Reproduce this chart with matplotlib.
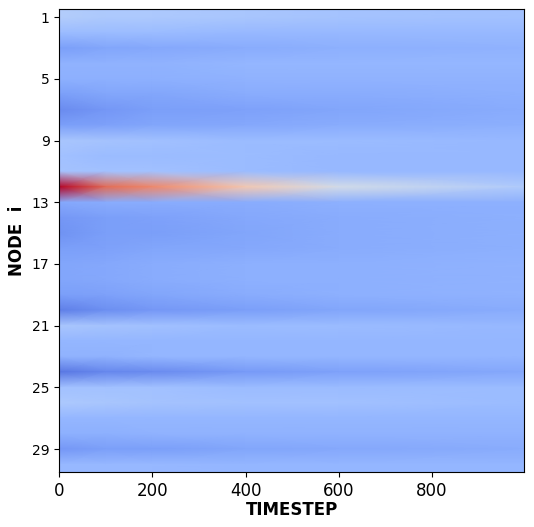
import numpy as np
import matplotlib
matplotlib.use("Agg")
import matplotlib.pyplot as plt

timesteps = [0, 100, 200, 400, 600, 999]
nodes = np.arange(1, 31)

state_t0 = [0.36, 0.29, 0.20, 0.26, 0.25, 0.20, 0.15, 0.20, 0.33, 0.31,
            0.32, 1.00, 0.23, 0.18, 0.17, 0.20, 0.22, 0.22, 0.20, 0.12,
            0.33, 0.27, 0.26, 0.10, 0.31, 0.34, 0.27, 0.25, 0.18, 0.28]
state_t100 = [0.34, 0.29, 0.22, 0.26, 0.25, 0.22, 0.18, 0.21, 0.32, 0.29,
              0.31, 0.85, 0.24, 0.20, 0.20, 0.21, 0.23, 0.23, 0.21, 0.16,
              0.32, 0.27, 0.26, 0.14, 0.31, 0.33, 0.27, 0.25, 0.20, 0.28]
state_t200 = [0.34, 0.29, 0.23, 0.26, 0.25, 0.22, 0.20, 0.22, 0.31, 0.29,
              0.31, 0.79, 0.24, 0.21, 0.20, 0.22, 0.24, 0.24, 0.22, 0.18,
              0.31, 0.27, 0.27, 0.15, 0.31, 0.32, 0.27, 0.26, 0.20, 0.28]
state_t400 = [0.33, 0.28, 0.24, 0.27, 0.26, 0.24, 0.21, 0.23, 0.29, 0.29,
              0.29, 0.61, 0.24, 0.23, 0.22, 0.23, 0.25, 0.25, 0.24, 0.20,
              0.29, 0.27, 0.27, 0.19, 0.29, 0.31, 0.27, 0.26, 0.22, 0.27]
state_t600 = [0.32, 0.28, 0.25, 0.27, 0.26, 0.24, 0.22, 0.24, 0.29, 0.28,
              0.28, 0.46, 0.25, 0.24, 0.24, 0.24, 0.25, 0.25, 0.25, 0.22,
              0.29, 0.27, 0.27, 0.21, 0.29, 0.31, 0.27, 0.26, 0.23, 0.27]
state_t999 = [0.31, 0.28, 0.26, 0.27, 0.26, 0.25, 0.24, 0.25, 0.28, 0.28,
              0.28, 0.35, 0.25, 0.25, 0.25, 0.25, 0.26, 0.26, 0.26, 0.24,
              0.28, 0.27, 0.27, 0.23, 0.29, 0.29, 0.27, 0.26, 0.24, 0.27]

ytick_nodes = [1, 5, 9, 13, 17, 21, 25, 29]
xtick_steps = [0, 200, 400, 600, 800]

state = np.array([state_t0, state_t100, state_t200, state_t400, state_t600, state_t999]).T

# pad the first / last node so the bands reach the axes edge
y = np.concatenate([[0.5], nodes, [30.5]])
C = np.vstack([state[:1], state, state[-1:]])

fig = plt.figure(figsize=(5.34, 5.27), dpi=100)
ax = fig.add_axes([0.111, 0.104, 0.871, 0.878])
ax.pcolormesh(timesteps, y, C, cmap='coolwarm', vmin=0, vmax=1, shading='gouraud')
ax.set_xlim(0, 999)
ax.set_ylim(30.5, 0.5)

ax.set_yticks(ytick_nodes)
ax.set_yticklabels([str(n) for n in ytick_nodes], fontsize=10)
ax.set_xticks(xtick_steps)
ax.set_xticklabels([str(s) for s in xtick_steps], fontsize=12)
ax.set_xlabel('TIMESTEP', fontsize=12, fontweight='bold', labelpad=1)
ax.set_ylabel('NODE  i', fontsize=12, fontweight='bold', labelpad=4)

fig.savefig('out.png', dpi=100)
